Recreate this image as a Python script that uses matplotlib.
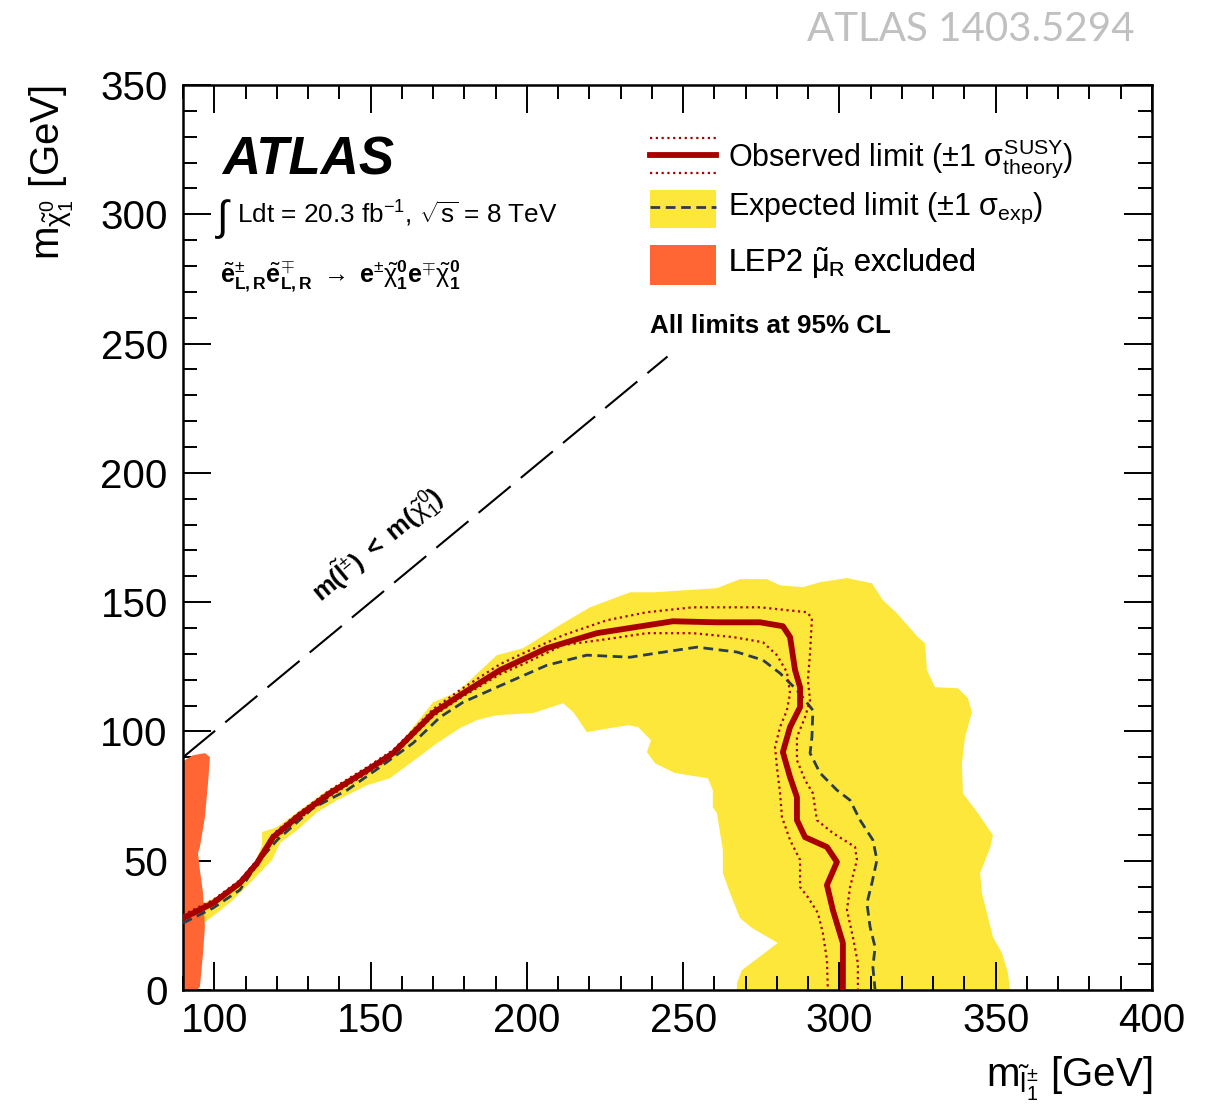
import numpy as np
import matplotlib.pyplot as plt
from matplotlib.lines import Line2D
from matplotlib.patches import Patch, Rectangle
from matplotlib.legend_handler import HandlerBase
from matplotlib.ticker import MultipleLocator

# fonts: Helvetica-like text, maths in the same family (upright greek like ROOT)
plt.rcParams['font.family'] = ['Liberation Sans', 'DejaVu Sans']
plt.rcParams['mathtext.fontset'] = 'custom'
plt.rcParams['mathtext.rm'] = 'Liberation Sans'
plt.rcParams['mathtext.it'] = 'Liberation Sans'
plt.rcParams['mathtext.bf'] = 'Liberation Sans:bold'
plt.rcParams['mathtext.sf'] = 'Liberation Sans'

# # Data (masses in GeV)
# expected +-1 sigma band outline: outer edge left->right, then inner edge back
band_x = [90, 100.2, 108.2, 113.0, 115.3, 115.3, 120.1, 134.8, 148.9, 157.2, 170.0, 177.7,
          190.4, 198.8, 211.6, 220.2, 233.0, 240.4, 260.8, 268.2, 276.8, 281.0, 288.3, 293.8,
          302.4, 310.4, 313.9, 318.4, 325.1, 327.4, 328.0, 330.6, 337.9, 341.1, 342.4, 340.2,
          339.2, 339.5, 344.3, 349.1, 348.2, 345.0, 345.6, 347.2, 349.1, 352.0, 353.9, 354.6,
          267.2, 267.2, 268.8, 280.3, 272.0, 268.2, 265.0, 262.7, 262.7, 260.8, 259.5, 259.5,
          257.9, 247.4, 241.0, 238.4, 239.7, 235.6, 232.4, 226.6, 219.2, 216.0, 214.8, 211.6,
          202.0, 190.4, 184.0, 178.6, 171.3, 164.9, 156.2, 148.9, 139.3, 132.9, 126.5, 121.0,
          118.5, 111.4, 106.0, 100.9, 97.0, 93.2, 90]
band_y = [30.2, 35.6, 42.5, 49.5, 56.0, 61.1, 63.0, 76.1, 86.2, 92.0, 111.3, 115.2,
          129.5, 132.2, 141.9, 148.0, 153.8, 153.8, 155.4, 158.9, 158.9, 156.5, 155.8, 157.7,
          159.3, 157.3, 150.8, 145.7, 136.5, 134.1, 123.7, 117.1, 116.7, 112.9, 107.5, 97.8,
          87.7, 76.1, 68.4, 59.9, 54.9, 45.2, 37.5, 29.8, 20.5, 14.3, 6.6, 0,
          0, 2.7, 7.7, 18.2, 24.0, 27.8, 37.5, 45.2, 54.1, 68.4, 70.7, 77.3,
          81.9, 83.9, 87.7, 92.0, 96.6, 101.7, 102.4, 101.3, 99.7, 105.5, 107.5, 110.9,
          107.1, 106.3, 104.4, 101.3, 95.5, 89.7, 81.9, 79.2, 73.4, 68.8, 61.8, 56.8,
          50.3, 41.4, 34.8, 29.8, 26.3, 24.0, 24.0]

# expected limit
exp_x = [90, 99.6, 108.2, 114.6, 120.1, 131.6, 142.5, 153.0, 163.6, 172.2, 179.6, 190.4,
         206.4, 219.2, 233.0, 241.6, 254.4, 267.2, 275.5, 281.0, 286.4, 291.5, 291.2, 290.6,
         293.8, 299.2, 303.4, 306.6, 310.7, 312.0, 310.4, 308.8, 309.8, 311.4, 310.7, 311.4]
exp_y = [25.9, 31.7, 38.7, 50.3, 58.0, 70.4, 77.3, 86.2, 95.5, 105.5, 111.3, 117.1,
         125.6, 129.5, 128.7, 130.3, 132.6, 130.7, 127.6, 122.5, 116.0, 108.2, 97.8, 91.6,
         83.9, 77.3, 73.4, 65.7, 58.0, 50.3, 41.4, 33.6, 24.4, 16.6, 8.9, 0]

# observed limit
obs_x = [90, 99.6, 108.2, 113.7, 118.8, 126.5, 137.0, 148.9, 157.2, 163.6, 170.0, 178.6,
         191.4, 206.4, 222.4, 246.7, 260.8, 274.6, 281.9, 284.2, 285.8, 287.4, 287.4, 284.2,
         281.9, 284.2, 286.4, 286.4, 289.0, 296.0, 299.2, 296.0, 297.9, 301.1, 301.1]
obs_y = [27.8, 33.6, 41.4, 49.1, 59.1, 66.9, 76.1, 85.0, 91.6, 99.3, 107.1, 114.0,
         123.7, 132.2, 138.0, 142.6, 142.2, 142.2, 140.7, 136.5, 123.7, 117.1, 109.4, 101.7,
         92.0, 82.3, 74.6, 65.7, 59.1, 55.3, 49.5, 40.6, 30.9, 18.2, 0]

# observed +1 sigma theory
obs_up_x = [90, 99.6, 108.2, 113.7, 118.8, 126.5, 137.0, 148.9, 157.2, 163.6, 170.0, 178.6,
            191.4, 198.8, 211.6, 225.6, 238.4, 253.1, 274.6, 289.6, 291.2, 290.6, 289.9, 290.6,
            289.0, 286.4, 286.4, 289.0, 291.5, 292.8, 297.9, 305.0, 305.6, 303.4, 302.4, 304.3,
            305.9, 305.9]
obs_up_y = [29.0, 34.8, 42.5, 50.3, 60.3, 68.0, 77.3, 86.2, 92.8, 100.5, 108.6, 116.0,
            126.0, 130.2, 137.2, 143.0, 146.1, 148.0, 148.0, 146.1, 143.8, 130.3, 119.8, 112.1,
            105.5, 97.8, 88.9, 81.2, 76.1, 65.7, 60.7, 55.3, 50.3, 39.8, 30.9, 20.5,
            10.4, 0]

# observed -1 sigma theory
obs_dn_x = [90, 99.6, 108.2, 113.7, 118.8, 126.5, 137.0, 148.9, 157.2, 163.6, 170.0, 178.6,
            191.4, 198.8, 211.6, 225.6, 238.4, 253.1, 265.9, 275.5, 280.0, 283.2, 284.2, 283.2,
            281.0, 279.4, 280.0, 281.0, 281.6, 284.2, 287.4, 287.4, 289.9, 293.1, 294.7, 296.0,
            296.3]
obs_dn_y = [27.1, 32.9, 40.6, 47.9, 58.0, 65.7, 75.0, 83.9, 90.5, 98.2, 105.9, 112.9,
            122.1, 126.0, 133.4, 135.7, 138.0, 138.0, 136.5, 134.5, 129.5, 122.9, 114.8, 108.2,
            101.7, 93.9, 86.2, 76.1, 66.9, 58.0, 50.3, 39.8, 35.9, 29.8, 22.0, 11.6,
            0]

# LEP2 excluded region
lep_x = [90, 90, 90.6, 93.2, 97.0, 98.6, 98.0, 97.0, 95.4, 94.8, 95.4, 96.4, 97.0, 96.4, 95.4, 94.5]
lep_y = [0, 88.0, 88.9, 90.8, 91.6, 90.1, 80.0, 66.9, 55.3, 53.0, 46.4, 37.5, 24.4, 14.3, 1.2, 0]

# kinematic boundary m(slepton) = m(neutralino)
diag_x = [90, 245]
diag_y = [90, 245]

YELLOW = '#fde73a'
ORANGE = '#ff6633'
RED = '#a80000'
DARK = '#2b3d48'


# legend keys in the ROOT style, placed relative to the text baseline (y=0)
class KeyHandler(HandlerBase):
    def __init__(self, kind):
        super().__init__()
        self.kind = kind

    def create_artists(self, legend, orig_handle, xd, yd, w, h, fontsize, trans):
        x0, x1 = -xd, -xd + w
        arts = []
        if self.kind == 'obs':
            yc = 7.0
            arts.append(Line2D([x0, x1], [yc, yc], color=RED, lw=4.2))
            for dy in (-12.6, 12.6):
                arts.append(Line2D([x0, x1], [yc + dy, yc + dy], color=RED, lw=1.6, dashes=(1, 1.6)))
        elif self.kind == 'exp':
            yc = 4.5
            arts.append(Rectangle((x0, yc - 13.7), w, 27.4, color=YELLOW, lw=0))
            arts.append(Line2D([x0, x1], [yc + 1.2, yc + 1.2], color=DARK, lw=2, dashes=(3.5, 2)))
        else:
            yc = 5.0
            arts.append(Rectangle((x0, yc - 14.4), w, 28.8, color=ORANGE, lw=0))
        for a in arts:
            a.set_transform(trans)
        return arts


fig = plt.figure(figsize=(12.17, 11.07), dpi=100)
ax = fig.add_axes([0.1504, 0.1057, 0.7962, 0.8175])

ax.fill(band_x, band_y, color=YELLOW, lw=0, zorder=1)
ax.fill(lep_x, lep_y, color=ORANGE, lw=0, zorder=2)
ax.plot(diag_x, diag_y, color='k', lw=1.5, dashes=(20, 6.3), zorder=3)
ax.plot(exp_x, exp_y, color=DARK, lw=2, dashes=(3.5, 2), zorder=3)
ax.plot(obs_up_x, obs_up_y, color=RED, lw=1.6, dashes=(1, 1.6), zorder=4)
ax.plot(obs_dn_x, obs_dn_y, color=RED, lw=1.6, dashes=(1, 1.6), zorder=4)
ax.plot(obs_x, obs_y, color=RED, lw=4.2, solid_joinstyle='round', zorder=5)

# axes style
ax.set_xlim(90, 400)
ax.set_ylim(0, 350)
ax.xaxis.set_major_locator(MultipleLocator(50))
ax.xaxis.set_minor_locator(MultipleLocator(10))
ax.yaxis.set_major_locator(MultipleLocator(50))
ax.yaxis.set_minor_locator(MultipleLocator(10))
ax.tick_params(which='both', direction='in', top=True, right=True, width=1.4, labelsize=29)
ax.tick_params(which='major', length=20)
ax.tick_params(which='minor', length=10)
ax.tick_params(axis='x', pad=9)
ax.tick_params(axis='y', pad=11)
for s in ax.spines.values():
    s.set_linewidth(1.8)

# axis titles, ROOT style (aligned to the axis ends)
ax.text(-0.135, 1.0, r'm$_{\tilde{\chi}^{0}_{1}}$ [GeV]', transform=ax.transAxes,
        rotation=90, ha='center', va='top', fontsize=29)
ax.text(1.0, -0.107, r'm$_{\tilde{l}^{\pm}_{1}}$ [GeV]', transform=ax.transAxes,
        ha='right', va='baseline', fontsize=29)

# labels
ax.text(0.040, 0.9006, 'ATLAS', transform=ax.transAxes, fontsize=38,
        fontweight='bold', fontstyle='italic', va='baseline')
ax.text(0.033, 0.840, r'$\int$', transform=ax.transAxes, fontsize=30, va='baseline')
ax.text(0.0555, 0.8475, r'Ldt = 20.3 fb$^{-1}$, $\sqrt{\mathrm{s}}$ = 8 TeV',
        transform=ax.transAxes, fontsize=18.8, va='baseline')
ax.text(0.038, 0.782,
        r'$\tilde{\mathbf{e}}^{\pm}_{\mathbf{L,R}}\tilde{\mathbf{e}}^{\mp}_{\mathbf{L,R}}'
        r'\ \rightarrow\ \mathbf{e}^{\pm}\tilde{\chi}^{\mathbf{0}}_{\mathbf{1}}'
        r'\mathbf{e}^{\mp}\tilde{\chi}^{\mathbf{0}}_{\mathbf{1}}$',
        transform=ax.transAxes, fontsize=18, va='baseline')
ax.text(0.482, 0.726, 'All limits at 95% CL', transform=ax.transAxes, fontsize=18.7,
        fontweight='bold', va='baseline')
ax.text(0.201, 0.492,
        r'$\mathbf{m(}\tilde{\mathbf{l}}^{\pm}\mathbf{)\ <\ m(}\tilde{\chi}^{0}_{1}\mathbf{)}$',
        transform=ax.transAxes, fontsize=18.5, rotation=39.6, ha='center', va='center')

# legend: one entry per row so every row sits on its own baseline
obs_key = Line2D([], [], color=RED)
exp_key = Patch(color=YELLOW)
lep_key = Patch(color=ORANGE)
leg_keys = [obs_key, exp_key, lep_key]
leg_labels = [r'Observed limit ($\pm$1 $\sigma^{\mathrm{SUSY}}_{\mathrm{theory}}$)',
              r'Expected limit ($\pm$1 $\sigma_{\mathrm{exp}}$)',
              r'LEP2 $\tilde{\mu}_{\mathrm{R}}$ excluded']
leg_kinds = ['obs', 'exp', 'lep']
leg_anchor_y = [0.8915, 0.8362, 0.7733]
for key, lab, kind, yy in zip(leg_keys, leg_labels, leg_kinds, leg_anchor_y):
    leg = ax.legend([key], [lab], handler_map={key: KeyHandler(kind)},
                    loc='lower left', bbox_to_anchor=(0.482, yy), frameon=False, fontsize=22,
                    handlelength=2.16, handleheight=2.4, handletextpad=0.39,
                    borderpad=0, borderaxespad=0)
    ax.add_artist(leg)

# watermark
fig.text(0.9326, 0.973, 'ATLAS 1403.5294', family='Lato',
         ha='right', va='center', color='#c0c0c0', fontsize=29)

fig.savefig('out.png', dpi=100)
